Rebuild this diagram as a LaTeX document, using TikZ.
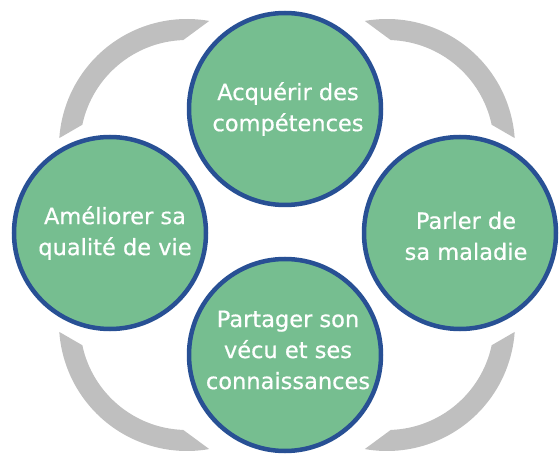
\documentclass[tikz,border=0pt]{standalone}
\usepackage{fontspec}
\setmainfont{DejaVu Sans}
\newfontfamily\lblfont{DejaVu Sans}[FakeBold=0.6]
\usetikzlibrary{calc}
\definecolor{bubblefill}{RGB}{118,190,144}
\definecolor{bubbleline}{RGB}{40,80,148}
\definecolor{bandgray}{RGB}{191,191,191}
\begin{document}
\begin{tikzpicture}[x=1pt,y=1pt,
  bubble/.style={circle, draw=bubbleline, line width=4.5pt, fill=bubblefill,
    minimum size=192pt, inner sep=0pt},
  lbl/.style={text=white, align=center, font=\lblfont\fontsize{22.5}{31}\selectfont},
  band/.style={fill=bandgray, draw=none}]
\useasboundingbox (0,0) rectangle (560,453);
% gray bands
\coordinate (ctl) at (187,306);
\coordinate (ctr) at (387,306);
\coordinate (cbl) at (187,130);
\coordinate (cbr) at (387,130);
\fill[band] ($(ctl)+(80:128)$) arc[start angle=80,end angle=176,radius=128pt]
  -- ($(ctl)+(168:107)$) arc[start angle=168,end angle=92,radius=107pt] -- cycle;
\fill[band] ($(ctr)+(4:128)$) arc[start angle=4,end angle=100,radius=128pt]
  -- ($(ctr)+(88:107)$) arc[start angle=88,end angle=12,radius=107pt] -- cycle;
\fill[band] ($(cbl)+(184:128)$) arc[start angle=184,end angle=280,radius=128pt]
  -- ($(cbl)+(268:107)$) arc[start angle=268,end angle=192,radius=107pt] -- cycle;
\fill[band] ($(cbr)+(260:128)$) arc[start angle=260,end angle=356,radius=128pt]
  -- ($(cbr)+(348:107)$) arc[start angle=348,end angle=272,radius=107pt] -- cycle;
% circles
\node[bubble] (top) at (285,344) {};
\node[bubble] (left) at (110,220) {};
\node[bubble] (right) at (460,220) {};
\node[bubble] (bottom) at (285,98) {};
% labels
\node[lbl] (toptxt) at ([xshift=3pt]top.center) {Acquérir des\\compétences};
\node[lbl] (lefttxt) at ([xshift=5pt]left.center) {Améliorer sa\\qualité de vie};
\node[lbl] (righttxt) at ([xshift=6pt,yshift=-3pt]right.center) {Parler de\\sa maladie};
\node[lbl] (bottomtxt) at ([xshift=3pt,yshift=5pt]bottom.center) {Partager son\\vécu et ses\\connaissances};
\end{tikzpicture}
\end{document}
